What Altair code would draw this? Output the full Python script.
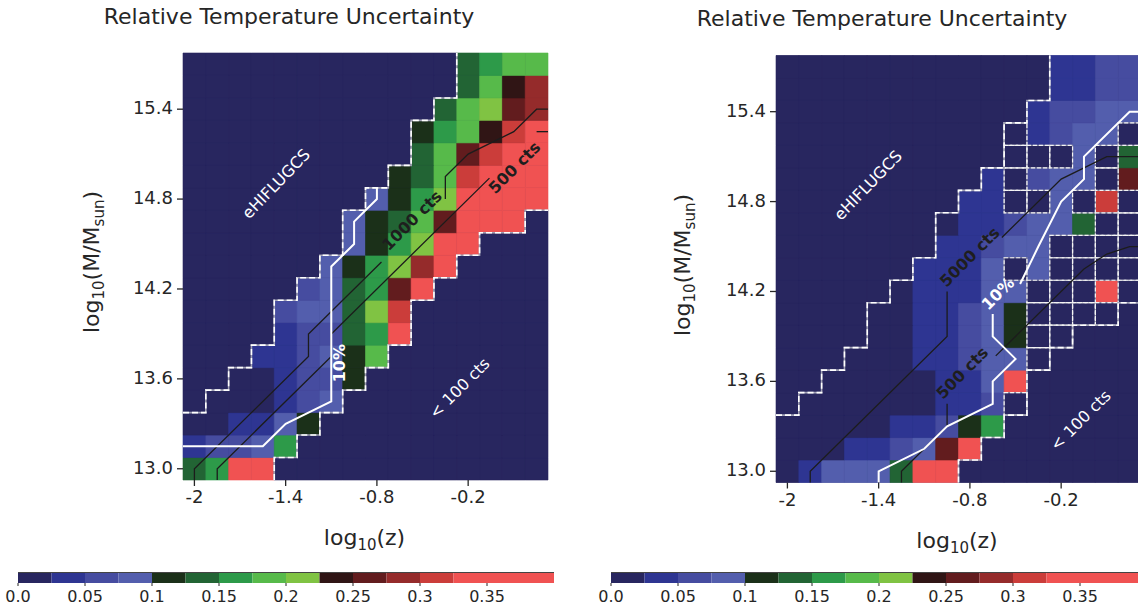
import altair as alt
import pandas as pd

FONT = "DejaVu Sans"
INK = "#262626"
NAVY = "#28265f"

# ---------------- grid coordinates (cell centres) ----------------
logz_centers = [-2.0, -1.85, -1.7, -1.55, -1.4, -1.25, -1.1, -0.95, -0.8, -0.65,
                -0.5, -0.35, -0.2, -0.05, 0.1, 0.25]
logm_centers = [13.0, 13.15, 13.3, 13.45, 13.6, 13.75, 13.9, 14.05, 14.2, 14.35,
                14.5, 14.65, 14.8, 14.95, 15.1, 15.25, 15.4, 15.55, 15.7]
cell_half = 0.075

# representative relative-uncertainty values
N, B, MB, LB = 0.01, 0.04, 0.06, 0.09
VG, DG, G, LG, YG = 0.11, 0.14, 0.16, 0.19, 0.21
BK, DR, BR, R, LR = 0.24, 0.26, 0.29, 0.31, 0.36
M = None  # masked cell (drawn with dashed outline)

left_rows = [
    [DG, G, LR, LR, N, N, N, N, N, N, N, N, N, N, N, N],
    [B, MB, MB, LB, G, N, N, N, N, N, N, N, N, N, N, N],
    [N, N, B, B, LB, VG, N, N, N, N, N, N, N, N, N, N],
    [N, N, N, N, B, MB, LB, N, N, N, N, N, N, N, N, N],
    [N, N, N, N, B, MB, MB, VG, N, N, N, N, N, N, N, N],
    [N, N, N, B, B, MB, LB, VG, LG, N, N, N, N, N, N, N],
    [N, N, N, N, B, MB, MB, DG, G, LR, N, N, N, N, N, N],
    [N, N, N, N, MB, LB, LB, DG, YG, R, N, N, N, N, N, N],
    [N, N, N, N, N, MB, LB, DG, G, DR, LR, N, N, N, N, N],
    [N, N, N, N, N, N, LB, VG, G, YG, BR, LR, N, N, N, N],
    [N, N, N, N, N, N, N, LB, VG, G, YG, LR, LR, N, N, N],
    [N, N, N, N, N, N, N, LB, VG, DG, LG, DR, LR, LR, LR, N],
    [N, N, N, N, N, N, N, N, LB, VG, G, YG, LR, LR, LR, LR],
    [N, N, N, N, N, N, N, N, N, VG, DG, LG, R, LR, LR, LR],
    [N, N, N, N, N, N, N, N, N, N, DG, LG, DR, R, LR, LR],
    [N, N, N, N, N, N, N, N, N, N, VG, G, LG, BK, R, LR],
    [N, N, N, N, N, N, N, N, N, N, N, DG, LG, YG, DR, BR],
    [N, N, N, N, N, N, N, N, N, N, N, N, DG, LG, BK, BR],
    [N, N, N, N, N, N, N, N, N, N, N, N, DG, G, LG, LG],
]

right_rows = [
    [N, B, LB, LB, LB, DG, LR, LR, N, N, N, N, N, N, N, N],
    [N, N, N, B, B, MB, LB, DR, LR, N, N, N, N, N, N, N],
    [N, N, N, N, N, B, B, MB, VG, G, N, N, N, N, N, N],
    [N, N, N, N, N, N, N, B, B, MB, M, N, N, N, N, N],
    [N, N, N, N, N, N, N, B, B, LB, LR, N, N, N, N, N],
    [N, N, N, N, N, N, B, B, MB, LB, LB, M, N, N, N, N],
    [N, N, N, N, N, N, B, B, MB, LB, VG, M, M, N, N, N],
    [N, N, N, N, N, N, B, B, MB, LB, VG, M, M, M, M, N],
    [N, N, N, N, N, N, B, B, B, LB, LB, M, M, M, LR, M],
    [N, N, N, N, N, N, B, B, B, LB, M, LB, M, M, M, M],
    [N, N, N, N, N, N, N, B, B, MB, LB, LB, M, M, M, M],
    [N, N, N, N, N, N, N, N, B, B, MB, LB, LB, DG, M, M],
    [N, N, N, N, N, N, N, N, B, B, M, M, LB, M, R, M],
    [N, N, N, N, N, N, N, N, N, B, M, MB, LB, LB, M, DR],
    [N, N, N, N, N, N, N, N, N, N, M, M, M, LB, M, DG],
    [N, N, N, N, N, N, N, N, N, N, M, B, MB, LB, LB, M],
    [N, N, N, N, N, N, N, N, N, N, N, B, MB, MB, LB, LB],
    [N, N, N, N, N, N, N, N, N, N, N, N, B, B, MB, MB],
    [N, N, N, N, N, N, N, N, N, N, N, N, B, B, MB, MB],
]

# region (dashed outline): first / last column index of each row
region_start = [0, 0, 0, 1, 2, 3, 4, 4, 5, 6, 7, 7, 8, 9, 10, 10, 11, 12, 12]
left_region_end = [3, 4, 5, 6, 7, 8, 9, 9, 10, 11, 12, 14, 15, 15, 15, 15, 15, 15, 15]
right_region_end = [7, 8, 9, 10, 10, 11, 12, 14, 15, 15, 15, 15, 15, 15, 15, 15, 15, 15, 15]

# contour polylines (log z, log M), split where the inline labels sit
left_c1000 = [
    [(-2.0, 12.925), (-2.0, 13.0), (-1.25, 13.75), (-1.25, 13.9), (-0.77, 14.38)],
    [(-0.35, 14.8), (-0.35, 14.95), (-0.2, 15.1), (0.1, 15.25), (0.25, 15.4), (0.325, 15.4)],
]
left_c500 = [
    [(-1.85, 12.925), (-1.85, 13.0), (-1.1, 13.75), (-1.1, 13.9), (-0.06, 14.94)],
    [(0.25, 15.25), (0.325, 15.25)],
]
left_c10pct = [
    [(-2.075, 13.15), (-1.55, 13.15), (-1.4, 13.3), (-1.1, 13.45), (-1.1, 14.35),
     (-0.95, 14.5), (-0.95, 14.65), (-0.8, 14.8), (-0.8, 14.875)],
]
right_c5000 = [
    [(-1.85, 12.925), (-1.85, 13.0), (-0.95, 13.9), (-0.95, 14.2)],
    [(-0.59, 14.56), (-0.2, 14.95), (0.1, 15.1), (0.325, 15.1)],
]
right_c500 = [
    [(-1.25, 12.925), (-1.25, 13.0), (-0.95, 13.3), (-0.95, 13.45)],
    [(-0.63, 13.77), (-0.05, 14.35), (0.1, 14.45), (0.25, 14.5), (0.325, 14.5)],
]
right_c10pct = [
    [(-1.4, 12.925), (-1.4, 13.0), (-1.1, 13.15), (-0.95, 13.3), (-0.65, 13.45),
     (-0.65, 13.6), (-0.5, 13.75), (-0.65, 13.9), (-0.65, 14.05)],
    [(-0.47, 14.25), (-0.35, 14.5), (-0.2, 14.8), (-0.05, 14.95), (-0.05, 15.1),
     (0.25, 15.4), (0.325, 15.4)],
]

# annotation anchors (data coordinates)
left_notes = {"eHIFLUGCS": (-1.46, 14.9), "< 100 cts": (-0.255, 13.536),
              "1000 cts": (-0.567, 14.655), "500 cts": (0.107, 15.008), "10%": (-1.044, 13.705)}
right_notes = {"eHIFLUGCS": (-1.468, 14.907), "< 100 cts": (-0.07, 13.338),
               "5000 cts": (-0.799, 14.428), "500 cts": (-0.848, 13.654), "10%": (-0.614, 14.184)}

# axes / colour bar
x_ticks = [-2, -1.4, -0.8, -0.2]
x_tick_labels = ["-2", "-1.4", "-0.8", "-0.2"]
y_ticks = [13.0, 13.6, 14.2, 14.8, 15.4]
y_tick_labels = ["13.0", "13.6", "14.2", "14.8", "15.4"]
thresholds = [0.025, 0.05, 0.075, 0.1, 0.125, 0.15, 0.175, 0.2, 0.225, 0.25, 0.275, 0.3, 0.325]
palette = ["#28265f", "#2e3592", "#464ca0", "#535ead", "#1b3019", "#226434", "#2d9a49",
           "#57ba4a", "#80c343", "#301515", "#621c1e", "#952b2b", "#cb3d3a", "#f05252"]
cbar_edges = [0.0, 0.025, 0.05, 0.075, 0.1, 0.125, 0.15, 0.175, 0.2, 0.225, 0.25, 0.275,
              0.3, 0.325, 0.4]
cbar_ticks = [0.0, 0.05, 0.1, 0.15, 0.2, 0.25, 0.3, 0.35]
cbar_labels = ["0.0", "0.05", "0.1", "0.15", "0.2", "0.25", "0.3", "0.35"]

TITLE = "Relative Temperature Uncertainty"
# axis titles as (text, font size, baseline drop) pieces -> subscripts
XTITLE = [("log", 22, 0), ("10", 15, 5), ("(z)", 22, 0)]
YTITLE = [("log", 22, 0), ("10", 15, 5), ("(M/M", 22, 0), ("sun", 15, 5), (")", 22, 0)]

# DejaVu Sans advance widths (em) used to lay the pieces end to end
ADV = {"l": 0.278, "o": 0.612, "g": 0.635, "1": 0.636, "0": 0.636, "(": 0.390, ")": 0.390,
       "z": 0.525, "M": 0.863, "/": 0.337, "s": 0.521, "u": 0.634, "n": 0.634}


def cscale():
    return alt.Scale(type="threshold", domain=thresholds, range=palette)


def cells_df(rows):
    recs = []
    for r, row in enumerate(rows):
        for c, v in enumerate(row):
            recs.append(dict(x0=logz_centers[c] - cell_half, x1=logz_centers[c] + cell_half,
                             y0=logm_centers[r] - cell_half, y1=logm_centers[r] + cell_half,
                             v=v, masked=v is None))
    return pd.DataFrame(recs)


def stair_left(start):
    r1 = next(r for r, s in enumerate(start) if s > 0)
    pts = [(logz_centers[0] - cell_half, logm_centers[r1] - cell_half)]
    for r in range(r1, len(start)):
        xl = logz_centers[start[r]] - cell_half
        pts += [(xl, logm_centers[r] - cell_half), (xl, logm_centers[r] + cell_half)]
    return pts


def stair_right(end):
    last = len(logz_centers) - 1
    pts = []
    for r, e in enumerate(end):
        xr = logz_centers[e] + cell_half
        pts.append((xr, logm_centers[r] - cell_half))
        if e == last:
            break
        pts.append((xr, logm_centers[r] + cell_half))
    return pts


def line_df(segments):
    recs = []
    for s, seg in enumerate(segments):
        for i, (x, y) in enumerate(seg):
            recs.append(dict(x=x, y=y, i=i, seg=s))
    return pd.DataFrame(recs)


def line_layer(segments, xs, ys, color, width, dash=None):
    kw = dict(color=color, strokeWidth=width)
    if dash:
        kw["strokeDash"] = dash
    return alt.Chart(line_df(segments)).mark_line(**kw).encode(
        x=alt.X("x:Q", scale=xs, axis=None), y=alt.Y("y:Q", scale=ys, axis=None),
        order="i:Q", detail="seg:N")


def note(text, pos, xs, ys, angle, color, weight="normal", size=16):
    d = pd.DataFrame({"x": [pos[0]], "y": [pos[1]], "t": [text]})
    return alt.Chart(d).mark_text(angle=angle, font=FONT, fontSize=size, fontWeight=weight,
                                  color=color, align="center", baseline="middle").encode(
        x=alt.X("x:Q", scale=xs, axis=None), y=alt.Y("y:Q", scale=ys, axis=None), text="t:N")


def pix_text(text, x, y, size, angle=0, align="center", baseline="middle", color=INK):
    d = pd.DataFrame({"t": [text]})
    return alt.Chart(d).mark_text(angle=angle, font=FONT, fontSize=size, color=color,
                                  align=align, baseline=baseline).encode(
        x=alt.value(x), y=alt.value(y), text="t:N")


def rich_title(pieces, cx, cy, vertical):
    widths = [sum(ADV[ch] for ch in t) * size for t, size, _ in pieces]
    pos = -sum(widths) / 2
    out = []
    for (t, size, drop), w in zip(pieces, widths):
        if vertical:
            out.append(pix_text(t, cx + drop, cy - pos, size, angle=270, align="left",
                                baseline="alphabetic"))
        else:
            out.append(pix_text(t, cx + pos, cy + drop, size, align="left",
                                baseline="alphabetic"))
        pos += w
    return out


def panel(rows, region_end, contours, notes, geo):
    xdom = [logz_centers[0] - cell_half, logz_centers[-1] + cell_half]
    ydom = [logm_centers[0] - cell_half, logm_centers[-1] + cell_half]
    xs = alt.Scale(domain=xdom, range=[geo["x0"], geo["x1"]], nice=False, zero=False)
    ys = alt.Scale(domain=ydom, range=[geo["ybot"], geo["ytop"]], nice=False, zero=False)
    layers = []

    bg = pd.DataFrame({"x0": [xdom[0]], "x1": [xdom[1]], "y0": [ydom[0]], "y1": [ydom[1]]})
    layers.append(alt.Chart(bg).mark_rect(fill=NAVY).encode(
        x=alt.X("x0:Q", scale=xs, axis=None), x2="x1:Q",
        y=alt.Y("y0:Q", scale=ys, axis=None), y2="y1:Q"))

    df = cells_df(rows)
    good = df[~df["masked"]].drop(columns=["masked"])
    layers.append(alt.Chart(good).mark_rect(strokeWidth=0.6).encode(
        x=alt.X("x0:Q", scale=xs, axis=None), x2="x1:Q",
        y=alt.Y("y0:Q", scale=ys, axis=None), y2="y1:Q",
        color=alt.Color("v:Q", scale=cscale(), legend=None),
        stroke=alt.Stroke("v:Q", scale=cscale(), legend=None)))

    masked = df[df["masked"]].drop(columns=["masked", "v"])
    if len(masked):
        enc = dict(x=alt.X("x0:Q", scale=xs, axis=None), x2="x1:Q",
                   y=alt.Y("y0:Q", scale=ys, axis=None), y2="y1:Q")
        layers.append(alt.Chart(masked).mark_rect(fill=NAVY, stroke="#8a8aa2",
                                                  strokeWidth=1.2).encode(**enc))
        layers.append(alt.Chart(masked).mark_rect(filled=False, stroke="#f4f4f4",
                                                  strokeWidth=1.2, strokeDash=[4, 2]).encode(**enc))

    outline = [stair_left(region_start), stair_right(region_end)]
    layers.append(line_layer(outline, xs, ys, "#a0a0b4", 1.6))
    layers.append(line_layer(outline, xs, ys, "white", 1.6, dash=[6, 3]))

    for segs, color, width in contours:
        layers.append(line_layer(segs, xs, ys, color, width))

    for text, pos in notes.items():
        if text == "eHIFLUGCS":
            layers.append(note(text, pos, xs, ys, 314, "white"))
        elif text == "< 100 cts":
            layers.append(note(text, pos, xs, ys, 315, "white"))
        elif text == "10%":
            layers.append(note(text, pos, xs, ys, geo["pct_angle"], "white", "bold"))
        else:
            layers.append(note(text, pos, xs, ys, 315, "#1e1e1e", "bold"))

    xt = pd.DataFrame({"v": x_ticks, "lab": x_tick_labels})
    yt = pd.DataFrame({"v": y_ticks, "lab": y_tick_labels})
    layers.append(alt.Chart(xt).mark_rule(color=INK, strokeWidth=1.3).encode(
        x=alt.X("v:Q", scale=xs, axis=None), y=alt.value(geo["ybot"]), y2=alt.value(geo["ybot"] + 6)))
    layers.append(alt.Chart(xt).mark_text(font=FONT, fontSize=18, color=INK, baseline="top").encode(
        x=alt.X("v:Q", scale=xs, axis=None), y=alt.value(geo["ybot"] + 9), text="lab:N"))
    layers.append(alt.Chart(yt).mark_rule(color=INK, strokeWidth=1.3).encode(
        y=alt.Y("v:Q", scale=ys, axis=None), x=alt.value(geo["x0"] - 6), x2=alt.value(geo["x0"])))
    layers.append(alt.Chart(yt).mark_text(font=FONT, fontSize=18, color=INK, align="right",
                                          baseline="middle").encode(
        y=alt.Y("v:Q", scale=ys, axis=None), x=alt.value(geo["x0"] - 10), text="lab:N"))

    # colour bar
    cbs = alt.Scale(domain=[cbar_edges[0], cbar_edges[-1]], range=[geo["cb0"], geo["cb1"]],
                    nice=False, zero=False)
    cb = pd.DataFrame({"lo": cbar_edges[:-1], "hi": cbar_edges[1:]})
    cb["mid"] = (cb["lo"] + cb["hi"]) / 2
    layers.append(alt.Chart(cb).mark_rect().encode(
        x=alt.X("lo:Q", scale=cbs, axis=None), x2="hi:Q",
        y=alt.value(572.5), y2=alt.value(583),
        color=alt.Color("mid:Q", scale=cscale(), legend=None)))
    frame = pd.DataFrame({"a": [cbar_edges[0]], "b": [cbar_edges[-1]]})
    layers.append(alt.Chart(frame).mark_rule(color="#444444", strokeWidth=1).encode(
        x=alt.X("a:Q", scale=cbs, axis=None), x2="b:Q", y=alt.value(572.5)))
    ct = pd.DataFrame({"v": cbar_ticks, "lab": cbar_labels})
    layers.append(alt.Chart(ct).mark_rule(color=INK, strokeWidth=1).encode(
        x=alt.X("v:Q", scale=cbs, axis=None), y=alt.value(583), y2=alt.value(586)))
    layers.append(alt.Chart(ct).mark_text(font=FONT, fontSize=16, color=INK, baseline="middle").encode(
        x=alt.X("v:Q", scale=cbs, axis=None), y=alt.value(597), text="lab:N"))

    # titles
    layers.append(pix_text(TITLE, geo["tx"], geo["ty"], 22))
    layers += rich_title(XTITLE, geo["xtx"], geo["xty"], vertical=False)
    layers += rich_title(YTITLE, geo["ytx"], geo["yty"], vertical=True)
    return layers


left_geo = dict(x0=183, x1=548, ybot=480, ytop=53, cb0=18, cb1=554, tx=289, ty=17,
                xtx=364.5, xty=545, ytx=99, yty=262, pct_angle=270)
right_geo = dict(x0=776, x1=1141, ybot=482.5, ytop=55.5, cb0=611, cb1=1147, tx=882, ty=19,
                 xtx=957, xty=548, ytx=690, yty=265, pct_angle=315)

left_layers = panel(left_rows, left_region_end,
                    [(left_c1000, "#1c1c1c", 1.3), (left_c500, "#1c1c1c", 1.3),
                     (left_c10pct, "white", 2)], left_notes, left_geo)
right_layers = panel(right_rows, right_region_end,
                     [(right_c5000, "#1c1c1c", 1.3), (right_c500, "#1c1c1c", 1.3),
                      (right_c10pct, "white", 2)], right_notes, right_geo)

chart = alt.layer(*(left_layers + right_layers)).resolve_scale(
    x="independent", y="independent", color="independent", stroke="independent"
).properties(
    width=1138, height=610, autosize=alt.AutoSizeParams(type="none"),
    padding={"left": 0, "top": 0, "right": 0, "bottom": 0},
).configure_view(stroke=None)

chart.save("out.html", embed_options={"renderer": "svg", "actions": False})
